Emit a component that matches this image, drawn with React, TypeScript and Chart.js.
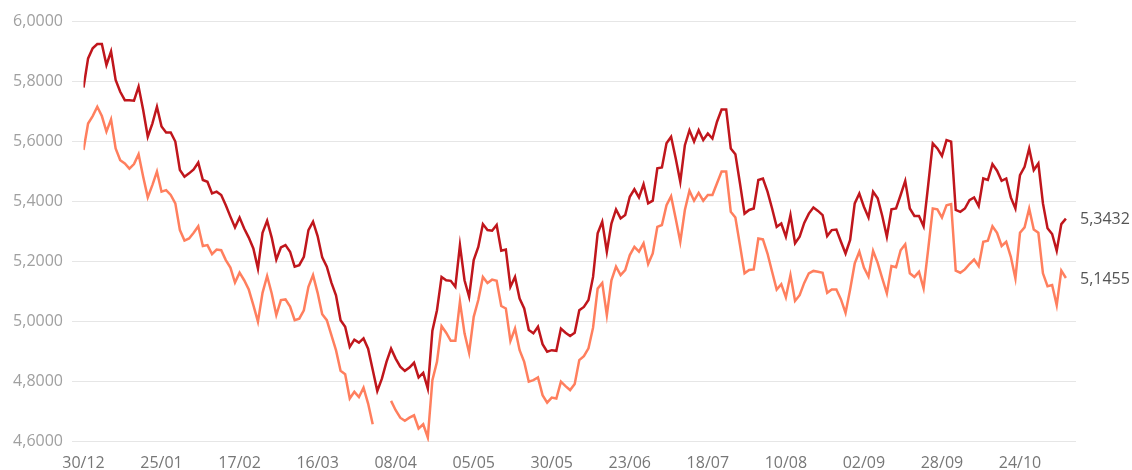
import React, { useEffect, useRef } from 'react';
import { Chart, registerables } from 'chart.js';

Chart.register(...registerables);

// X tick labels: one every 17 business-day points
const tickLabels = ['30/12', '25/01', '17/02', '16/03', '08/04', '05/05', '30/05', '23/06', '18/07', '10/08', '02/09', '28/09', '24/10'];
const TICK_STEP = 17;

// Dark red series (upper line)
const seriesDark: (number | null)[] = [
  5.78, 5.877, 5.911, 5.925, 5.925, 5.855, 5.9, 5.805, 5.766, 5.738,
  5.738, 5.736, 5.783, 5.705, 5.616, 5.66, 5.716, 5.65, 5.63, 5.63,
  5.6, 5.505, 5.483, 5.494, 5.507, 5.53, 5.472, 5.466, 5.427, 5.433,
  5.422, 5.388, 5.35, 5.314, 5.347, 5.31, 5.28, 5.244, 5.177, 5.296,
  5.336, 5.28, 5.207, 5.247, 5.255, 5.233, 5.183, 5.188, 5.216, 5.305,
  5.333, 5.285, 5.214, 5.183, 5.13, 5.088, 5.005, 4.983, 4.916, 4.94,
  4.93, 4.944, 4.91, 4.84, 4.769, 4.81, 4.866, 4.91, 4.877, 4.85,
  4.836, 4.847, 4.863, 4.814, 4.829, 4.777, 4.97, 5.038, 5.149, 5.138,
  5.136, 5.116, 5.255, 5.138, 5.083, 5.205, 5.249, 5.325, 5.305, 5.303,
  5.322, 5.236, 5.24, 5.116, 5.149, 5.077, 5.044, 4.972, 4.961, 4.983,
  4.925, 4.9, 4.905, 4.903, 4.977, 4.963, 4.952, 4.963, 5.038, 5.049,
  5.072, 5.149, 5.294, 5.333, 5.233, 5.327, 5.374, 5.344, 5.355, 5.416,
  5.441, 5.414, 5.458, 5.394, 5.403, 5.511, 5.514, 5.594, 5.616, 5.544,
  5.466, 5.588, 5.638, 5.6, 5.638, 5.605, 5.627, 5.61, 5.666, 5.707,
  5.707, 5.577, 5.558, 5.461, 5.36, 5.372, 5.377, 5.472, 5.477, 5.433,
  5.377, 5.316, 5.327, 5.283, 5.355, 5.261, 5.283, 5.329, 5.36, 5.38,
  5.369, 5.355, 5.285, 5.305, 5.307, 5.266, 5.227, 5.272, 5.394, 5.427,
  5.383, 5.347, 5.433, 5.411, 5.352, 5.283, 5.374, 5.377, 5.422, 5.469,
  5.377, 5.352, 5.352, 5.318, 5.455, 5.594, 5.577, 5.552, 5.605, 5.6,
  5.372, 5.366, 5.377, 5.405, 5.414, 5.385, 5.477, 5.472, 5.525, 5.503,
  5.469, 5.477, 5.414, 5.377, 5.488, 5.516, 5.577, 5.505, 5.527, 5.394,
  5.311, 5.292, 5.236, 5.325, 5.3432,
];

// Salmon series (lower line), with a short gap in April
const seriesLight: (number | null)[] = [
  5.572, 5.66, 5.685, 5.716, 5.685, 5.633, 5.674, 5.577, 5.538, 5.527,
  5.51, 5.525, 5.558, 5.483, 5.414, 5.455, 5.5, 5.433, 5.438, 5.422,
  5.394, 5.305, 5.27, 5.277, 5.296, 5.318, 5.252, 5.255, 5.225, 5.24,
  5.238, 5.205, 5.18, 5.13, 5.163, 5.138, 5.107, 5.055, 5.0, 5.096,
  5.152, 5.094, 5.022, 5.072, 5.074, 5.05, 5.005, 5.01, 5.038, 5.116,
  5.155, 5.096, 5.025, 5.005, 4.955, 4.905, 4.836, 4.825, 4.744, 4.766,
  4.749, 4.78, 4.727, 4.658, null, null, null, 4.736, 4.705, 4.68,
  4.67, 4.68, 4.688, 4.644, 4.658, 4.614, 4.805, 4.866, 4.985, 4.963,
  4.936, 4.936, 5.066, 4.961, 4.896, 5.016, 5.072, 5.149, 5.129, 5.14,
  5.136, 5.052, 5.044, 4.936, 4.977, 4.905, 4.866, 4.8, 4.805, 4.814,
  4.755, 4.73, 4.747, 4.744, 4.8, 4.785, 4.772, 4.792, 4.872, 4.885,
  4.911, 4.98, 5.11, 5.129, 5.022, 5.138, 5.183, 5.155, 5.172, 5.222,
  5.249, 5.233, 5.261, 5.192, 5.227, 5.316, 5.322, 5.388, 5.418, 5.344,
  5.266, 5.372, 5.436, 5.403, 5.429, 5.403, 5.422, 5.422, 5.461, 5.5,
  5.5, 5.366, 5.347, 5.255, 5.161, 5.172, 5.174, 5.277, 5.274, 5.227,
  5.166, 5.107, 5.125, 5.081, 5.155, 5.069, 5.088, 5.129, 5.161, 5.169,
  5.166, 5.163, 5.096, 5.107, 5.107, 5.074, 5.029, 5.107, 5.194, 5.233,
  5.18, 5.15, 5.236, 5.196, 5.144, 5.094, 5.185, 5.181, 5.238, 5.258,
  5.161, 5.149, 5.166, 5.111, 5.241, 5.377, 5.374, 5.347, 5.388, 5.392,
  5.17, 5.163, 5.174, 5.192, 5.207, 5.185, 5.266, 5.27, 5.318, 5.296,
  5.252, 5.266, 5.216, 5.144, 5.296, 5.314, 5.377, 5.307, 5.296, 5.161,
  5.118, 5.122, 5.055, 5.17, 5.1455,
];

const yTicksMin = 4.6;
const yTicksMax = 6.0;
const yTickStep = 0.2;

const DARK = '#c0161c';
const LIGHT = '#ff7f5e';
const FONT = '"Open Sans", "Noto Sans", sans-serif';

const fmt = (v: number) => v.toFixed(4).replace('.', ',');

const endLabelPlugin = {
  id: 'endLabels',
  afterDraw(chart: any) {
    const ctx = chart.ctx;
    ctx.save();
    ctx.font = `16px ${FONT}`;
    ctx.fillStyle = '#555555';
    ctx.textAlign = 'left';
    ctx.textBaseline = 'middle';
    chart.data.datasets.forEach((ds: any, di: number) => {
      const meta = chart.getDatasetMeta(di);
      const pts = meta.data;
      for (let i = pts.length - 1; i >= 0; i--) {
        const raw = ds.data[i];
        if (raw && raw.y != null) {
          ctx.fillText(fmt(raw.y), chart.chartArea.right + 4, pts[i].y + 1);
          break;
        }
      }
    });
    ctx.restore();
  },
};

export default function App() {
  const ref = useRef<HTMLCanvasElement | null>(null);

  useEffect(() => {
    document.body.style.margin = '0';
    if (!ref.current) return;
    const toPts = (arr: (number | null)[]) => arr.map((v, i) => ({ x: i, y: v }));
    const chart = new Chart(ref.current, {
      type: 'line',
      data: {
        datasets: [
          {
            data: toPts(seriesDark) as any,
            borderColor: DARK,
            borderWidth: 2.5,
            pointRadius: 0,
            tension: 0,
            spanGaps: false,
          },
          {
            data: toPts(seriesLight) as any,
            borderColor: LIGHT,
            borderWidth: 2.5,
            pointRadius: 0,
            tension: 0,
            spanGaps: false,
          },
        ],
      },
      options: {
        animation: false,
        responsive: false,
        maintainAspectRatio: false,
        layout: { padding: { top: 21.5, right: 56, bottom: 0, left: 0 } },
        plugins: { legend: { display: false }, tooltip: { enabled: false } },
        scales: {
          x: {
            type: 'linear',
            min: 0,
            max: 216.2,
            grid: { display: false },
            border: { display: false },
            afterBuildTicks: (s: any) => {
              s.ticks = tickLabels.map((_, k) => ({ value: k * TICK_STEP }));
            },
            afterFit: (s: any) => {
              s.height = 28.3;
            },
            ticks: {
              autoSkip: false,
              maxRotation: 0,
              color: '#777777',
              font: { family: FONT, size: 16 },
              padding: 4,
              callback: (v: any) => tickLabels[Math.round(Number(v) / TICK_STEP)] ?? '',
            },
          },
          y: {
            min: yTicksMin,
            max: yTicksMax,
            grid: { color: '#e6e6e6', lineWidth: 1, drawTicks: true, tickLength: 11.5 },
            border: { display: false },
            afterFit: (s: any) => {
              s.width = 83.5;
            },
            ticks: {
              stepSize: yTickStep,
              color: '#a0a0a0',
              font: { family: FONT, size: 16 },
              padding: 9,
              callback: (v: any) => fmt(Number(v)),
            },
          },
        },
      },
      plugins: [endLabelPlugin],
    });
    return () => chart.destroy();
  }, []);

  return (
    <div style={{ width: 1132, height: 470 }}>
      <canvas ref={ref} width={1132} height={470} style={{ display: 'block' }} />
    </div>
  );
}
